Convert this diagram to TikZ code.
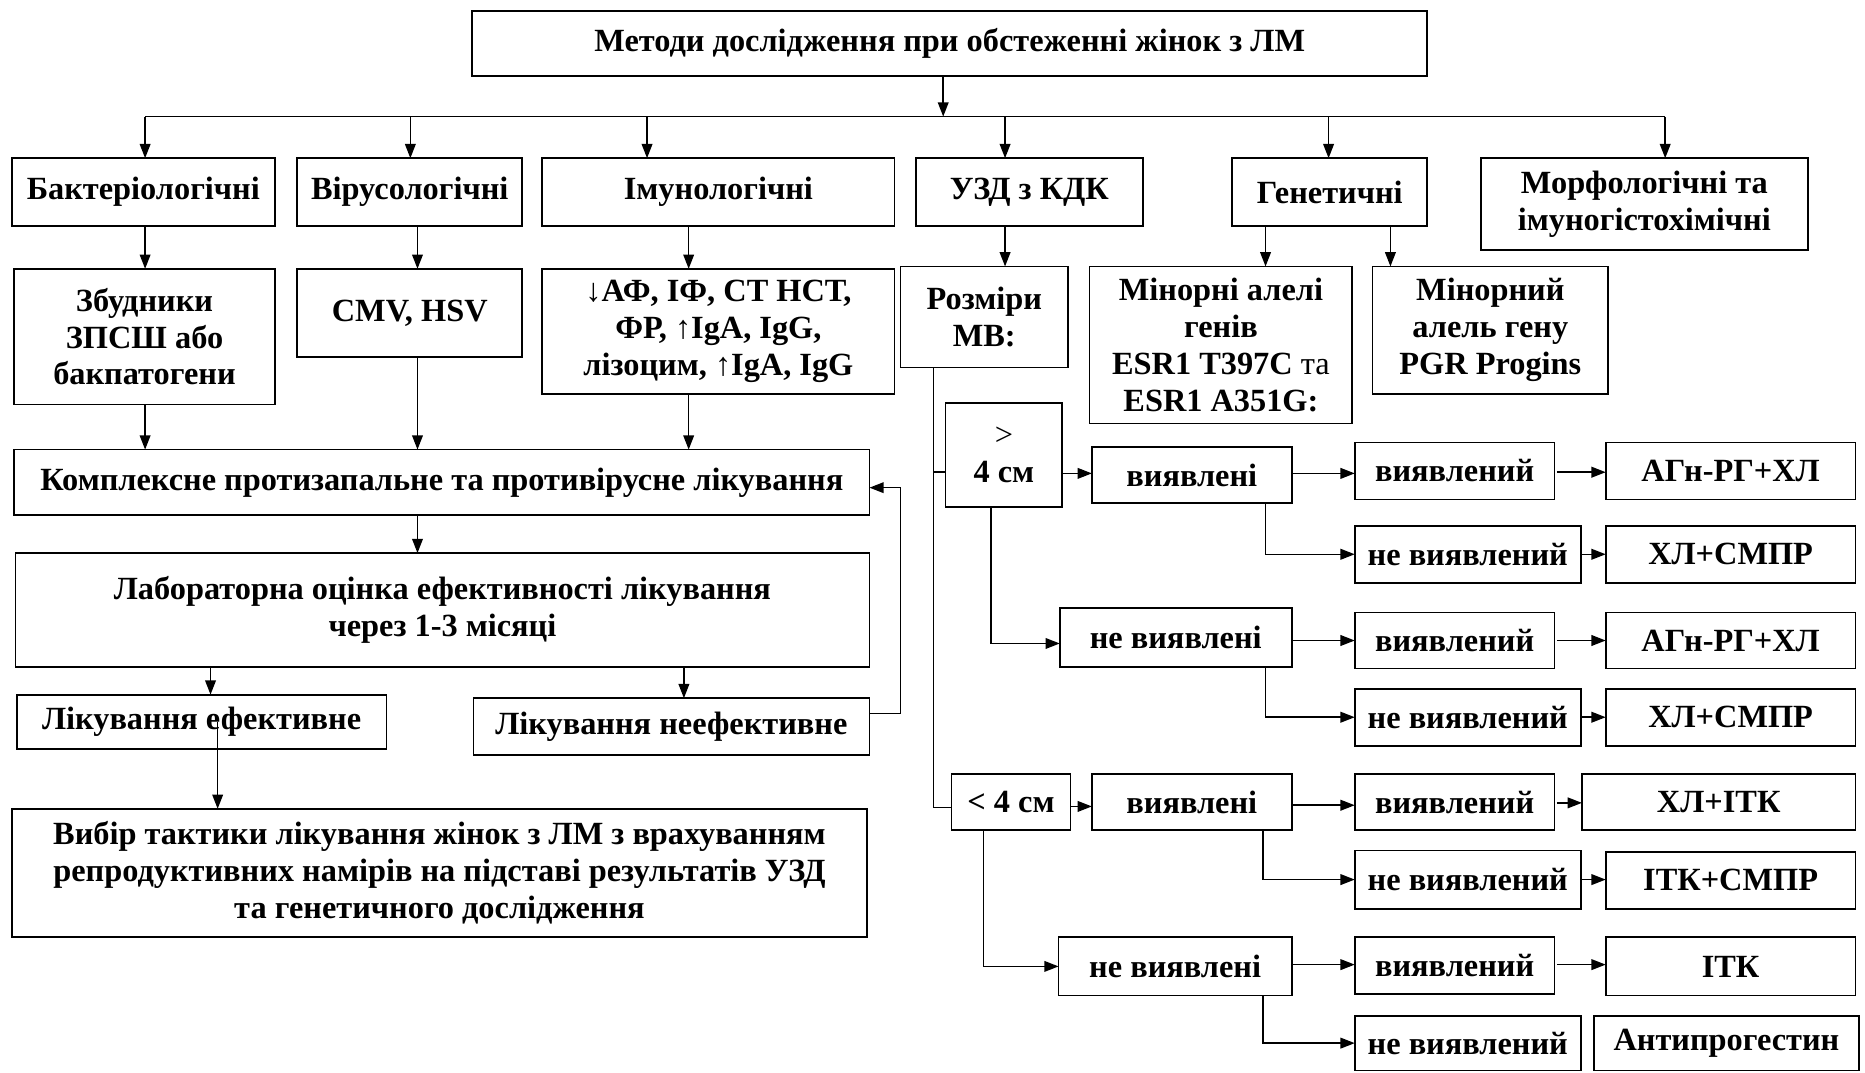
\documentclass[tikz,border=0pt]{standalone}
\usepackage{fontspec}
\setmainfont{Liberation Serif}
\usetikzlibrary{arrows.meta}
\tikzset{
  box/.style={draw, line width=1.5pt, inner sep=0pt, outer sep=0pt, align=center,
    font=\fontsize{27.2}{31}\selectfont\bfseries},
  con/.style={line width=1.3pt},
  arr/.style={con, -{Triangle[length=12pt,width=9pt]}},
}
\newcommand\bx[6]{%
  \pgfmathsetmacro\bw{#4-#2}\pgfmathsetmacro\bh{#5-#3}%
  \pgfmathsetmacro\bcx{(#2+#4)/2}\pgfmathsetmacro\bcy{(#3+#5)/2}%
  \node[box,minimum width=\bw pt,minimum height=\bh pt] (#1) at (\bcx,\bcy) {#6};}
\begin{document}
\begin{tikzpicture}[x=1pt,y=-1pt]
\fill[white] (0,0) rectangle (1568,902);
\useasboundingbox (0,0) rectangle (1568,902);
% boxes
\bx{top}{397}{9}{1200}{64}{Методи дослідження при обстеженні жінок з ЛМ}
\bx{bact}{10}{133}{231}{190}{Бактеріологічні}
\bx{vir}{250}{133}{439}{190}{Вірусологічні}
\bx{imm}{456}{133}{752}{190}{Імунологічні}
\bx{uzd}{770}{133}{961}{190}{УЗД з КДК}
\bx{gen}{1036}{133}{1200}{190}{Генетичні}
\bx{morf}{1245}{133}{1520}{210}{Морфологічні та\\імуногістохімічні}
\bx{zbud}{12}{226}{231}{340}{Збудники\\ЗПСШ або\\бакпатогени}
\bx{cmv}{250}{226}{439}{300}{CMV, HSV}
\bx{imm2}{456}{226}{752}{331}{↓АФ, ІФ, СТ НСТ,\\ФР, ↑IgA, IgG,\\лізоцим, ↑IgA, IgG}
\bx{rozm}{757}{224}{898}{309}{Розміри\\МВ:}
\bx{minor}{916}{224}{1137}{356}{Мінорні алелі\\генів\\ESR1 T397C {\mdseries та}\\ESR1 A351G:}
\bx{minor2}{1154}{224}{1352}{331}{Мінорний\\алель гену\\PGR Progins}
\bx{kompl}{12}{378}{731}{433}{Комплексне протизапальне та противірусне лікування}
\bx{lab}{13}{465}{731}{561}{Лабораторна оцінка ефективності лікування\\через 1-3 місяці}
\bx{eff}{14}{584}{325}{630}{Лікування ефективне}
\bx{neeff}{398}{587}{731}{635}{Лікування неефективне}
\bx{vybir}{10}{680}{729}{788}{Вибір тактики лікування жінок з ЛМ з врахуванням\\репродуктивних намірів на підставі результатів УЗД\\та генетичного дослідження}
\bx{gt}{795}{339}{893}{426}{{\mdseries >}\\4 см}
\bx{a}{918}{376}{1086}{423}{виявлені}
\bx{a1}{1139}{372}{1307}{420}{виявлений}
\bx{a1r}{1350}{372}{1560}{420}{АГн-РГ+ХЛ}
\bx{a2}{1139}{442}{1329}{490}{не виявлений}
\bx{a2r}{1350}{442}{1560}{490}{ХЛ+СМПР}
\bx{b}{891}{511}{1086}{561}{не виявлені}
\bx{b1}{1139}{515}{1307}{562}{виявлений}
\bx{b1r}{1350}{515}{1560}{562}{АГн-РГ+ХЛ}
\bx{b2}{1139}{579}{1329}{627}{не виявлений}
\bx{b2r}{1350}{579}{1560}{627}{ХЛ+СМПР}
\bx{lt}{800}{651}{900}{698}{< 4 см}
\bx{c}{918}{651}{1086}{698}{виявлені}
\bx{c1}{1139}{651}{1307}{698}{виявлений}
\bx{c1r}{1330}{651}{1560}{698}{ХЛ+ІТК}
\bx{c2}{1139}{715}{1329}{764}{не виявлений}
\bx{c2r}{1350}{716}{1560}{764}{ІТК+СМПР}
\bx{d}{890}{788}{1086}{837}{не виявлені}
\bx{d1}{1139}{788}{1307}{836}{виявлений}
\bx{d1r}{1350}{788}{1560}{837}{ІТК}
\bx{d2}{1139}{854}{1329}{900}{не виявлений}
\bx{d2r}{1340}{854}{1563}{900}{Антипрогестин}
% top distribution
\coordinate (hub) at (793,98);
\coordinate (hl) at (122,98);
\coordinate (hr) at (1400,98);
\draw[arr] (top.south -| hub) -- (hub);
\draw[con] (hl) -- (hr);
\foreach \x/\n in {122/bact,345/vir,544/imm,845/uzd,1117/gen,1400/morf}
  \draw[arr] (\x,98) -- (\n.north -| \x,0);
\foreach \x/\p/\q in {122/bact/zbud,351/vir/cmv,579/imm/imm2,845/uzd/rozm,1064/gen/minor,1169/gen/minor2}
  \draw[arr] (\p.south -| \x,0) -- (\q.north -| \x,0);
\foreach \x/\p in {122/zbud,351/cmv,579/imm2}
  \draw[arr] (\p.south -| \x,0) -- (kompl.north -| \x,0);
\draw[arr] (kompl.south -| 351,0) -- (lab.north -| 351,0);
\draw[arr] (lab.south -| 177,0) -- (eff.north -| 177,0);
\draw[arr] (lab.south -| 575,0) -- (neeff.north -| 575,0);
\draw[arr] (eff.center -| 183,0) -- (vybir.north -| 183,0);
\coordinate (fb) at (757,600);
\coordinate (fbt) at (757,410);
\draw[arr] (neeff.east |- fb) -- (fb) -- (fbt) -- (kompl.east |- fbt);
% size branch
\coordinate (g1) at (785,397);
\coordinate (g2) at (785,679);
\draw[con] (rozm.south -| g1) -- (g2) -- (lt.west |- g2);
\draw[con] (g1) -- (gt.west |- g1);
\draw[arr] (gt.east |- 0,398) -- (a.west |- 0,398);
\draw[arr] (a.east |- 0,398) -- (a1.west |- 0,398);
\draw[arr] ([xshift=2pt]a1.east |- 0,397) -- (a1r.west |- 0,397);
\draw[arr] (a.south -| 1064,0) |- (a2.west);
\draw[arr] (a2.east) -- (a2r.west |- a2.east);
\draw[arr] (gt.south -| 833,0) |- (b.west |- 0,541);
\draw[arr] (b.east |- b1.west) -- (b1.west);
\draw[arr] ([xshift=2pt]b1.east) -- (b1r.west |- b1.east);
\draw[arr] (b.south -| 1064,0) |- (b2.west);
\draw[arr] (b2.east) -- (b2r.west |- b2.east);
\draw[arr] (lt.east |- 0,678) -- (c.west |- 0,678);
\draw[arr] (c.east |- 0,677) -- (c1.west |- 0,677);
\draw[arr] ([xshift=2pt]c1.east |- 0,675) -- (c1r.west |- 0,675);
\draw[arr] (c.south -| 1062,0) |- (c2.west);
\draw[arr] (c2.east) -- (c2r.west |- c2.east);
\draw[arr] (lt.south -| 827,0) |- (d.west);
\draw[arr] (d.east |- 0,811) -- (d1.west |- 0,811);
\draw[arr] ([xshift=2pt]d1.east |- 0,811) -- (d1r.west |- 0,811);
\draw[arr] (d.south -| 1062,0) |- (d2.west);
\end{tikzpicture}
\end{document}
